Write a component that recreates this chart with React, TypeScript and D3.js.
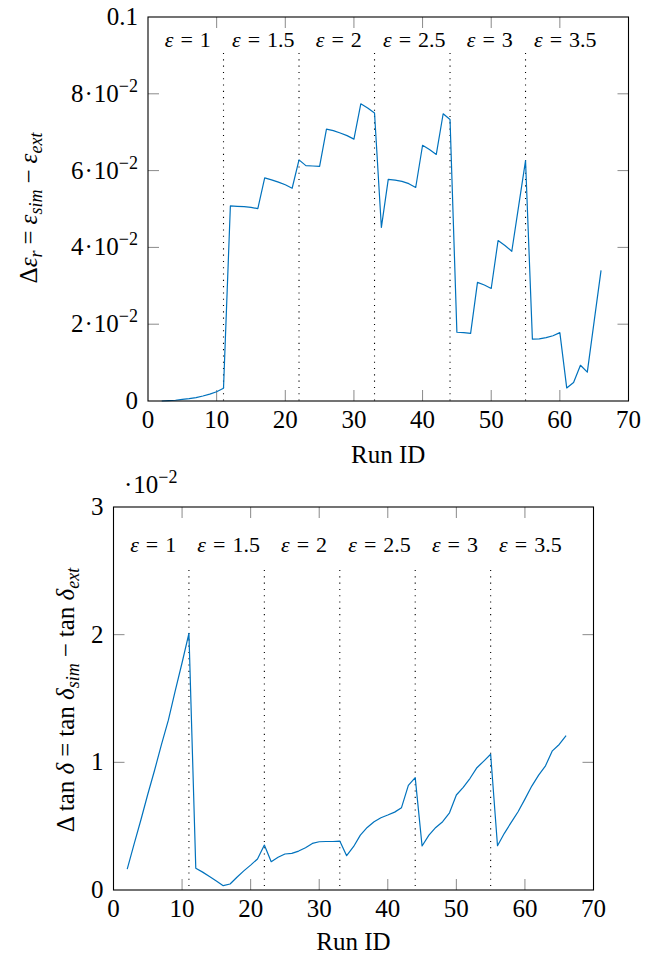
import React from "react";
import * as d3 from "d3";

const runIds = [2,3,4,5,6,7,8,9,10,11,12,13,14,15,16,17,18,19,20,21,22,23,24,25,26,27,28,29,30,31,32,33,34,35,36,37,38,39,40,41,42,43,44,45,46,47,48,49,50,51,52,53,54,55,56,57,58,59,60,61,62,63,64,65,66];

const deltaEps = [0,0.0001,0.0002,0.0004,0.0006,0.0009,0.0013,0.0018,0.0024,0.0033,
  0.0508,0.0507,0.0506,0.0504,0.0501,0.0581,0.0576,0.0570,0.0563,0.0554,
  0.0628,0.0613,0.0612,0.0611,0.0708,0.0704,0.0698,0.0691,0.0682,0.0774,
  0.0763,0.0750,0.0452,0.0577,0.0575,0.0572,0.0566,0.0556,0.0666,0.0655,
  0.0642,0.0748,0.0733,0.0179,0.0178,0.0176,0.0309,0.0302,0.0293,0.0418,
  0.0405,0.0390,0.0508,0.0626,0.0161,0.0162,0.0165,0.0170,0.0178,0.0034,
  0.0048,0.0093,0.0075,0.0208,0.0340];

// in units of 10^-2
const deltaTan = [0.164,0.36,0.55,0.75,0.94,1.14,1.33,1.56,1.78,2.01,
  0.17,0.14,0.105,0.07,0.034,0.047,0.10,0.15,0.195,0.243,
  0.352,0.222,0.256,0.282,0.287,0.305,0.331,0.365,0.378,0.38,
  0.38,0.383,0.269,0.339,0.43,0.49,0.535,0.566,0.587,0.61,
  0.645,0.82,0.88,0.345,0.43,0.49,0.535,0.605,0.744,0.804,
  0.875,0.958,1.01,1.063,0.347,0.444,0.53,0.613,0.712,0.814,
  0.90,0.973,1.09,1.14,1.21];

const groupBounds = [11, 22, 33, 44, 55];
const groupLabels = ["1", "1.5", "2", "2.5", "3", "3.5"];
const groupCenters = [5.5, 16.5, 27.5, 38.5, 49.5, 60.5];
const xTicks = [0, 10, 20, 30, 40, 50, 60, 70];
const topYTicks = [0, 0.02, 0.04, 0.06, 0.08, 0.1];
const bottomYTicks = [0, 1, 2, 3];

const LINE = "#0072bd";
const TICK = "#8a8a8a";

type PanelProps = {
  left: number; right: number; top: number; bottom: number;
  yMax: number; values: number[]; yTicks: number[];
  yLabel: (v: number) => React.ReactNode;
  labelY: number; dotTop: number; titleDy: number;
};

function Panel(p: PanelProps) {
  const x = d3.scaleLinear().domain([0, 70]).range([p.left, p.right]);
  const y = d3.scaleLinear().domain([0, p.yMax]).range([p.bottom, p.top]);
  const line = d3.line<number>().x((_, i) => x(runIds[i])).y((d) => y(d));
  const tl = 11;
  return (
    <g>
      {xTicks.slice(1, -1).map((t) => (
        <g key={"xt" + t}>
          <line x1={x(t)} x2={x(t)} y1={p.bottom} y2={p.bottom - tl} stroke={TICK} strokeWidth={1} />
          <line x1={x(t)} x2={x(t)} y1={p.top} y2={p.top + tl} stroke={TICK} strokeWidth={1} />
        </g>
      ))}
      {p.yTicks.slice(1, -1).map((t) => (
        <g key={"yt" + t}>
          <line x1={p.left} x2={p.left + tl} y1={y(t)} y2={y(t)} stroke={TICK} strokeWidth={1} />
          <line x1={p.right} x2={p.right - tl} y1={y(t)} y2={y(t)} stroke={TICK} strokeWidth={1} />
        </g>
      ))}
      {groupBounds.map((g) => (
        <line key={"g" + g} x1={x(g)} x2={x(g)} y1={p.dotTop} y2={p.bottom} stroke="#000" strokeWidth={1.1} strokeDasharray="1.1 5.2" />
      ))}
      {groupLabels.map((lab, i) => (
        <text key={"gl" + i} className="ser" x={x(groupCenters[i]) + 2} y={p.labelY} fontSize={22} textAnchor="middle">
          <tspan fontStyle="italic">ε</tspan><tspan dx={7}>=</tspan><tspan dx={7}>{lab}</tspan>
        </text>
      ))}
      <path d={line(p.values) || ""} fill="none" stroke={LINE} strokeWidth={1.2} strokeLinejoin="round" />
      <rect x={p.left} y={p.top} width={p.right - p.left} height={p.bottom - p.top} fill="none" stroke="#000" strokeWidth={1.1} />
      {xTicks.map((t) => (
        <text key={"xl" + t} className="ser" x={x(t)} y={p.bottom + 27} fontSize={25} textAnchor="middle">{t}</text>
      ))}
      {p.yTicks.map((t) => (
        <text key={"yl" + t} className="ser" x={p.left - 10} y={y(t) + 8} fontSize={25} textAnchor="end">{p.yLabel(t)}</text>
      ))}
      <text className="ser" x={(p.left + p.right) / 2} y={p.bottom + p.titleDy} fontSize={25} textAnchor="middle">Run ID</text>
    </g>
  );
}

function topLabel(v: number): React.ReactNode {
  if (v === 0) return "0";
  if (v === 0.1) return "0.1";
  const m = Math.round(v * 100);
  return (
    <>
      {m}<tspan dx={1}>·</tspan><tspan dx={1}>10</tspan><tspan fontSize={18} dy={-10}>−2</tspan>
    </>
  );
}

export default function App() {
  return (
    <svg width={667} height={959} style={{ position: "absolute", left: 0, top: 0, background: "#fff" }}>
      <style>{`.ser { font-family: "Liberation Serif", serif; }`}</style>
      <Panel left={148} right={628.5} top={17} bottom={401} yMax={0.1} values={deltaEps} yTicks={topYTicks}
        yLabel={topLabel} labelY={47} dotTop={53} titleDy={62} />
      <text className="ser" transform="translate(37,208) rotate(-90)" fontSize={25} textAnchor="middle">
        Δ<tspan fontStyle="italic">ε</tspan><tspan fontStyle="italic" fontSize={18} dy={5}>r</tspan>
        <tspan dy={-5} dx={6}>=</tspan><tspan dx={6} fontStyle="italic">ε</tspan><tspan fontStyle="italic" fontSize={18} dy={5}>sim</tspan>
        <tspan dy={-5} dx={6}>−</tspan><tspan dx={6} fontStyle="italic">ε</tspan><tspan fontStyle="italic" fontSize={18} dy={5}>ext</tspan>
      </text>

      <Panel left={113.5} right={593.5} top={507} bottom={890} yMax={3} values={deltaTan} yTicks={bottomYTicks}
        yLabel={(v) => String(v)} labelY={552} dotTop={570} titleDy={60} />
      <text className="ser" x={124} y={493} fontSize={25}>·<tspan dx={1}>10</tspan><tspan fontSize={18} dy={-10}>−2</tspan></text>
      <text className="ser" transform="translate(74,700) rotate(-90)" fontSize={25} textAnchor="middle">
        Δ tan <tspan fontStyle="italic">δ</tspan><tspan dx={6}>=</tspan><tspan dx={6}>tan</tspan> <tspan fontStyle="italic">δ</tspan><tspan fontStyle="italic" fontSize={18} dy={5}>sim</tspan>
        <tspan dy={-5} dx={6}>−</tspan><tspan dx={6}>tan</tspan> <tspan fontStyle="italic">δ</tspan><tspan fontStyle="italic" fontSize={18} dy={5}>ext</tspan>
      </text>
    </svg>
  );
}
